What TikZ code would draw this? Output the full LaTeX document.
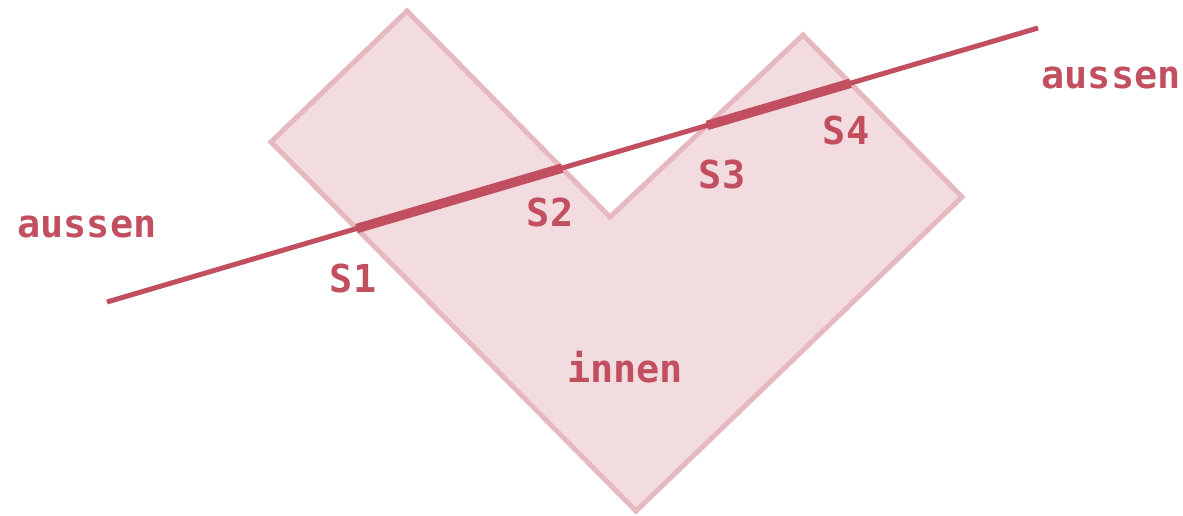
\documentclass[tikz,border=0pt]{standalone}
\usepackage{fontspec}
\newfontfamily\labelfont{DejaVu Sans Mono}[BoldFont={DejaVu Sans Mono Bold}]
\definecolor{linecol}{HTML}{C14F5F}
\definecolor{fillcol}{HTML}{F2DCDF}
\definecolor{edgecol}{HTML}{E6B8BF}
\tikzset{
  vshape/.style={fill=fillcol, draw=edgecol, line width=5pt, line join=miter},
  cutline/.style={draw=linecol, line width=5pt},
  inside/.style={draw=linecol, line width=9.5pt},
  lbl/.style={text=linecol, font=\labelfont\bfseries\fontsize{38.5}{42}\selectfont, inner sep=0pt}
}
\begin{document}
\begin{tikzpicture}[x=1pt,y=-1pt]
\useasboundingbox (0,0) rectangle (1183,516);
\coordinate (P1) at (407,11);
\coordinate (P2) at (271,142);
\coordinate (P3) at (636,511);
\coordinate (P4) at (962,197);
\coordinate (P5) at (803,35);
\coordinate (P6) at (610,217);
\coordinate (L1) at (107,302);
\coordinate (L2) at (1038,28);
\draw[vshape] (P1) -- (P2) -- (P3) -- (P4) -- (P5) -- (P6) -- cycle;
\coordinate (S1) at (intersection of L1--L2 and P2--P3);
\coordinate (S2) at (intersection of L1--L2 and P1--P6);
\coordinate (S3) at (intersection of L1--L2 and P6--P5);
\coordinate (S4) at (intersection of L1--L2 and P5--P4);
\draw[cutline] (L1) -- (L2);
\draw[inside] (S1) -- (S2);
\draw[inside] (S3) -- (S4);
\node[lbl] (t1) at (353,278) {S1};
\node[lbl] (t2) at (550,212) {S2};
\node[lbl] (t3) at (722,174) {S3};
\node[lbl] (t4) at (846,130) {S4};
\node[lbl] (a1) at (87,227) {aussen};
\node[lbl] (a2) at (1111,78) {aussen};
\node[lbl] (in) at (625,367) {innen};
\end{tikzpicture}
\end{document}
